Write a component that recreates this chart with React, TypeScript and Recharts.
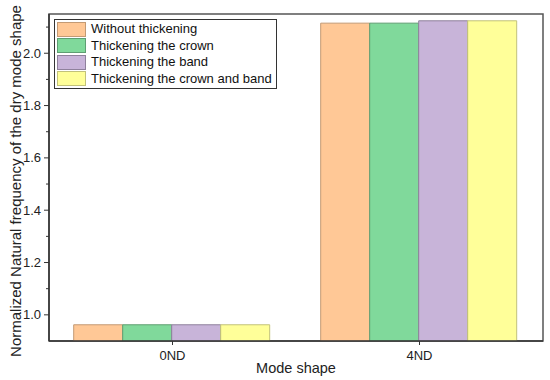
import React from 'react';
import { BarChart, Bar, XAxis, YAxis, ReferenceArea } from 'recharts';

const categories = ['0ND', '4ND'];
const withoutThickening = [0.962, 2.115];
const thickeningCrown = [0.962, 2.115];
const thickeningBand = [0.962, 2.124];
const thickeningCrownBand = [0.962, 2.124];
const yTicks = [1.0, 1.1, 1.2, 1.3, 1.4, 1.5, 1.6, 1.7, 1.8, 1.9, 2.0, 2.1];
const Y_MIN = 0.9;
const Y_MAX = 2.15;

const series = [
  { key: 'a', name: 'Without thickening', values: withoutThickening, fill: '#FFC896', stroke: '#C39A74' },
  { key: 'b', name: 'Thickening the crown', values: thickeningCrown, fill: '#80D99B', stroke: '#5E9E72' },
  { key: 'c', name: 'Thickening the band', values: thickeningBand, fill: '#C8B4D9', stroke: '#8F819C' },
  { key: 'd', name: 'Thickening the crown and band', values: thickeningCrownBand, fill: '#FFFF99', stroke: '#C2C27A' },
];

const data = categories.map((c, i) => {
  const row: any = { name: c };
  series.forEach((s) => (row[s.key] = s.values[i]));
  return row;
});

const FONT = 'Liberation Sans, Arial, sans-serif';

const YTick = (props: any) => {
  const { x, y, payload } = props;
  const v = payload.value;
  const major = Math.abs(Math.round(v * 10) % 2) === 0;
  return (
    <g>
      <line x1={x} x2={x - (major ? 5 : 3)} y1={y} y2={y} stroke="#333" strokeWidth={1} />
      {major && (
        <text x={x - 8} y={y} dy={4.5} textAnchor="end" fontSize={13} fontFamily={FONT} fill="#222">
          {v.toFixed(1)}
        </text>
      )}
    </g>
  );
};

const XTick = (props: any) => {
  const { x, y, payload } = props;
  return (
    <g>
      <line x1={x} x2={x} y1={y} y2={y + 4} stroke="#333" strokeWidth={1} />
      <text x={x} y={y + 19} textAnchor="middle" fontSize={13} fontFamily={FONT} fill="#222">
        {payload.value}
      </text>
    </g>
  );
};

const LegendBox = () => (
  <div
    style={{
      position: 'absolute',
      left: 54,
      top: 19,
      border: '1px solid #333',
      background: '#fff',
      padding: '1px 4px 1px 2px',
      fontFamily: FONT,
      fontSize: 13,
      color: '#111',
      lineHeight: '16.5px',
    }}
  >
    {series.map((s) => (
      <div key={s.key} style={{ display: 'flex', alignItems: 'center', height: 16.5 }}>
        <span
          style={{
            display: 'inline-block',
            width: 29,
            height: 15,
            background: s.fill,
            border: `1px solid ${s.stroke}`,
            boxSizing: 'border-box',
            marginRight: 5,
          }}
        />
        <span style={{ whiteSpace: 'nowrap' }}>{s.name}</span>
      </div>
    ))}
  </div>
);

const YLabel = () => {
  const cx = 15;
  const cy = 181;
  return (
    <text
      x={cx}
      y={cy}
      transform={`rotate(-90 ${cx} ${cy})`}
      textAnchor="middle"
      dominantBaseline="central"
      fontSize={15}
      fontFamily={FONT}
      fill="#222"
    >
      Normalized Natural frequency of the dry mode shape
    </text>
  );
};

const XLabel = (props: any) => {
  const vb = props.viewBox || {};
  const cx = (vb.x ?? 49) + (vb.width ?? 494) / 2;
  return (
    <text x={cx} y={373} textAnchor="middle" fontSize={14.5} fontFamily={FONT} fill="#222">
      Mode shape
    </text>
  );
};

export default function App() {
  return (
    <div style={{ position: 'absolute', left: 0, top: 0, width: 550, height: 380, background: '#fff' }}>
      <BarChart
        width={550}
        height={380}
        data={data}
        margin={{ top: 14, right: 7, bottom: 0, left: 0 }}
        barCategoryGap="10%"
        barGap={0}
      >
        <XAxis
          dataKey="name"
          height={39}
          axisLine={{ stroke: '#333', strokeWidth: 1.5 }}
          tickLine={false}
          tickSize={0}
          tickMargin={0}
          tick={<XTick />}
          label={<XLabel />}
        />
        <YAxis
          width={49}
          domain={[Y_MIN, Y_MAX]}
          ticks={yTicks}
          allowDataOverflow
          axisLine={{ stroke: '#333', strokeWidth: 1.5 }}
          tickLine={false}
          tickSize={0}
          tickMargin={0}
          tick={<YTick />}
          interval={0}
          label={<YLabel />}
        />
        {series.map((s) => (
          <Bar
            key={s.key}
            dataKey={s.key}
            name={s.name}
            fill={s.fill}
            stroke={s.stroke}
            strokeWidth={1}
            isAnimationActive={false}
          />
        ))}
        <ReferenceArea y1={Y_MIN} y2={Y_MAX} fill="none" stroke="#555" strokeWidth={1.5} ifOverflow="visible" />
      </BarChart>
      <LegendBox />
    </div>
  );
}
